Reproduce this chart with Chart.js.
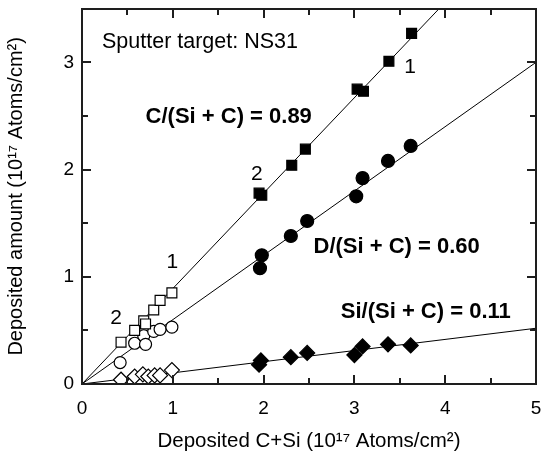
<!DOCTYPE html>
<html>
<head>
<meta charset="utf-8">
<script src="https://cdn.jsdelivr.net/npm/chart.js@4.4.1/dist/chart.umd.min.js"></script>
<style>
  html, body { margin: 0; padding: 0; background: #fff; }
  #wrap { width: 548px; height: 458px; }
</style>
</head>
<body>
<div id="wrap"><canvas id="chart" width="548" height="458"></canvas></div>
<script>
// ===== DATA =====
// open symbols (series 1/2 at low dose), filled symbols (high dose)
const C_OPEN_X  = [0.43, 0.58, 0.68, 0.70, 0.79, 0.86, 0.99];
const C_OPEN_Y  = [0.39, 0.50, 0.59, 0.56, 0.69, 0.78, 0.85];
const D_OPEN_X  = [0.42, 0.58, 0.68, 0.70, 0.79, 0.86, 0.99];
const D_OPEN_Y  = [0.20, 0.38, 0.45, 0.37, 0.49, 0.51, 0.53];
const SI_OPEN_X = [0.43, 0.58, 0.67, 0.73, 0.80, 0.86, 0.99];
const SI_OPEN_Y = [0.04, 0.07, 0.09, 0.07, 0.08, 0.08, 0.13];

const C_FILL_X  = [1.95, 1.98, 2.31, 2.46, 3.03, 3.10, 3.38, 3.63];
const C_FILL_Y  = [1.78, 1.76, 2.04, 2.19, 2.75, 2.73, 3.01, 3.27];
const D_FILL_X  = [1.96, 1.98, 2.30, 2.48, 3.02, 3.09, 3.37, 3.62];
const D_FILL_Y  = [1.08, 1.20, 1.38, 1.52, 1.75, 1.92, 2.08, 2.22];
const SI_FILL_X = [1.95, 1.97, 2.30, 2.48, 3.00, 3.09, 3.37, 3.62];
const SI_FILL_Y = [0.18, 0.22, 0.25, 0.29, 0.27, 0.35, 0.37, 0.36];

// fitted lines through origin
const FIT_X  = [0, 5];
const FIT_C  = [0, 4.45];
const FIT_D  = [0, 3.00];
const FIT_SI = [0, 0.52];

const X_TICKS = [0, 1, 2, 3, 4, 5];
const Y_TICKS = [0, 1, 2, 3];
const X_MIN = 0, X_MAX = 5, Y_MIN = 0, Y_MAX = 3.5;

const FONT = '"Liberation Sans", Arial, Helvetica, sans-serif';
const FRAME_COLOR = '#1e1e1e';

function pts(xs, ys) { return xs.map((x, i) => ({ x: x, y: ys[i] })); }

// ===== ANNOTATIONS (data coords) =====
const LABELS = [
  { text: 'Sputter target: NS31', x: 0.22, y: 3.19, bold: false, size: 21.5 },
  { text: 'C/(Si + C) = 0.89',   x: 0.70, y: 2.49, bold: true,  size: 22 },
  { text: 'D/(Si + C) = 0.60',   x: 2.55, y: 1.28, bold: true,  size: 22 },
  { text: 'Si/(Si + C) = 0.11',  x: 2.85, y: 0.67, bold: true,  size: 22 },
  { text: '1', x: 3.55, y: 2.95, bold: false, size: 21 },
  { text: '2', x: 1.86, y: 1.96, bold: false, size: 21 },
  { text: '1', x: 0.93, y: 1.14, bold: false, size: 21 },
  { text: '2', x: 0.31, y: 0.61, bold: false, size: 21 }
];

const frameAndText = {
  id: 'frameAndText',
  afterDraw(chart) {
    const ctx = chart.ctx;
    const xs = chart.scales.x, ys = chart.scales.y;
    const L = Math.round(xs.getPixelForValue(X_MIN)), R = Math.round(xs.getPixelForValue(X_MAX));
    const B = Math.round(ys.getPixelForValue(Y_MIN)), T = Math.round(ys.getPixelForValue(Y_MAX));
    ctx.save();
    ctx.fillStyle = FRAME_COLOR;
    // frame
    ctx.fillRect(L - 1, T - 1, R - L + 2, 2);
    ctx.fillRect(L - 1, B - 1, R - L + 2, 2);
    ctx.fillRect(L - 1, T - 1, 2, B - T + 2);
    ctx.fillRect(R - 1, T - 1, 2, B - T + 2);
    // inward ticks, long on whole numbers, short on halves
    for (let v = X_MIN; v <= X_MAX + 0.001; v += 0.5) {
      const px = Math.round(xs.getPixelForValue(v));
      const len = Math.abs(v - Math.round(v)) < 0.01 ? 9 : 6;
      ctx.fillRect(px - 1, B - len, 2, len);
      ctx.fillRect(px - 1, T, 2, len);
    }
    for (let v = Y_MIN; v <= Y_MAX + 0.001; v += 0.5) {
      const py = Math.round(ys.getPixelForValue(v));
      const len = Math.abs(v - Math.round(v)) < 0.01 ? 9 : 6;
      ctx.fillRect(L, py - 1, len, 2);
      ctx.fillRect(R - len, py - 1, len, 2);
    }
    ctx.fillStyle = '#000';
    ctx.textBaseline = 'middle';
    ctx.textAlign = 'left';
    LABELS.forEach(l => {
      ctx.font = (l.bold ? 'bold ' : '') + l.size + 'px ' + FONT;
      ctx.fillText(l.text, xs.getPixelForValue(l.x), ys.getPixelForValue(l.y));
    });
    ctx.restore();
  }
};

function lineSet(ys) {
  return {
    type: 'line', data: pts(FIT_X, ys), borderColor: '#000', borderWidth: 1,
    pointRadius: 0, fill: false, order: 10
  };
}
function markSet(xs, ys, style, filled, r) {
  return {
    type: 'scatter', data: pts(xs, ys), pointStyle: style, pointRadius: r,
    pointBackgroundColor: filled ? '#000' : '#fff', pointBorderColor: '#000',
    pointBorderWidth: 1.2, order: 1
  };
}

new Chart(document.getElementById('chart'), {
  type: 'scatter',
  data: {
    datasets: [
      lineSet(FIT_C), lineSet(FIT_D), lineSet(FIT_SI),
      markSet(C_OPEN_X, C_OPEN_Y, 'rect', false, 7),
      markSet(D_OPEN_X, D_OPEN_Y, 'circle', false, 6),
      markSet(SI_OPEN_X, SI_OPEN_Y, 'rectRot', false, 7.5),
      markSet(C_FILL_X, C_FILL_Y, 'rect', true, 7),
      markSet(D_FILL_X, D_FILL_Y, 'circle', true, 6.5),
      markSet(SI_FILL_X, SI_FILL_Y, 'rectRot', true, 7.5)
    ]
  },
  options: {
    responsive: false, animation: false,
    layout: { padding: { top: 8, right: 12, left: 0, bottom: 0 } },
    plugins: { legend: { display: false }, tooltip: { enabled: false } },
    scales: {
      x: {
        type: 'linear', min: X_MIN, max: X_MAX,
        afterFit: s => { s.height = 74; s.paddingLeft = 0; s.paddingRight = 0; },
        afterBuildTicks: s => { s.ticks = X_TICKS.map(v => ({ value: v })); },
        grid: { display: false, drawTicks: false },
        border: { display: false },
        ticks: { color: '#000', font: { family: FONT, size: 19 }, padding: 13 },
        title: {
          display: true, text: 'Deposited C+Si (10¹⁷ Atoms/cm²)', color: '#000',
          font: { family: FONT, size: 20.5 }, padding: { top: 4 }
        }
      },
      y: {
        type: 'linear', min: Y_MIN, max: Y_MAX,
        afterFit: s => { s.width = 82; s.paddingTop = 0; s.paddingBottom = 0; },
        afterBuildTicks: s => { s.ticks = Y_TICKS.map(v => ({ value: v })); },
        grid: { display: false, drawTicks: false },
        border: { display: false },
        ticks: { color: '#000', font: { family: FONT, size: 19 }, padding: 8 },
        title: {
          display: true, text: 'Deposited amount (10¹⁷ Atoms/cm²)', color: '#000',
          font: { family: FONT, size: 20 }, padding: { bottom: 4 }
        }
      }
    }
  },
  plugins: [frameAndText]
});
</script>
</body>
</html>
